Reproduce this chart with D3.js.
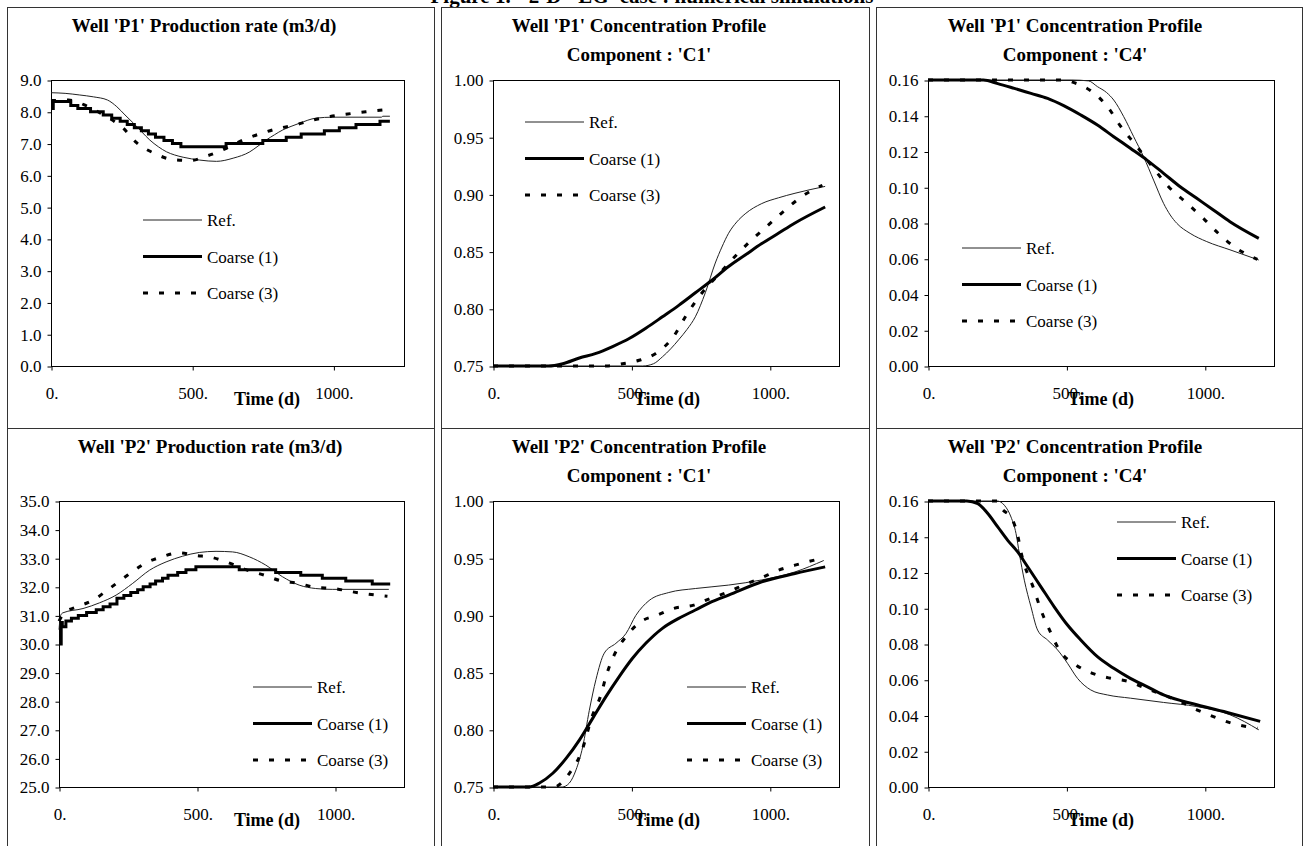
<!DOCTYPE html>
<html>
<head>
<meta charset="utf-8">
<script src="https://cdn.jsdelivr.net/npm/d3@7"></script>
<style>
  body { margin: 0; background: #fff; }
  svg { display: block; }
  text { font-family: "Liberation Serif", "Times New Roman", serif; fill: #000; }
</style>
</head>
<body>
<div id="chart"></div>
<script>
// Axis ticks shared by every panel
const timeTicks = [0, 500, 1000];
const timeTickLabels = ["0.", "500.", "1000."];
const seriesNames = ["Ref.", "Coarse (1)", "Coarse (3)"];

// Well P1 - production rate (m3/d)
const p1RateRef = [[0,8.6],[50,8.58],[100,8.53],[150,8.47],[200,8.37],[233,8.16],[262,7.9],[292,7.64],[320,7.38],[350,7.11],[380,6.9],[409,6.74],[438,6.64],[468,6.57],[527,6.48],[586,6.44],[645,6.54],[704,6.74],[733,6.92],[762,7.11],[792,7.28],[821,7.43],[850,7.54],[880,7.64],[939,7.8],[998,7.83],[1170,7.83],[1175,7.86],[1200,7.86]];
const p1RateC1 = [[0,8.1],[8,8.32],[70,8.2],[95,8.1],[140,8.0],[185,7.9],[215,7.8],[245,7.7],[270,7.6],[295,7.5],[320,7.4],[345,7.3],[370,7.2],[400,7.1],[430,7.0],[460,6.9],[620,7.0],[750,7.1],[833,7.2],[886,7.3],[968,7.4],[1021,7.5],[1080,7.6],[1165,7.7],[1200,7.7]];
const p1RateC3 = [[0,8.35],[62,8.37],[127,8.18],[186,7.9],[256,7.48],[304,7.02],[372,6.67],[427,6.5],[492,6.47],[556,6.62],[621,6.85],[680,7.11],[745,7.32],[807,7.48],[862,7.58],[927,7.74],[989,7.85],[1051,7.93],[1115,8.0],[1200,8.08]];

// Well P1 - C1 concentration
const p1C1Ref = [[0,0.75],[540,0.75],[580,0.752],[612,0.758],[642,0.765],[671,0.773],[701,0.782],[731,0.793],[767,0.814],[803,0.84],[827,0.854],[851,0.866],[881,0.876],[911,0.883],[971,0.892],[1031,0.897],[1091,0.901],[1200,0.907]];
const p1C1C1 = [[0,0.75],[200,0.75],[252,0.752],[312,0.757],[372,0.761],[432,0.767],[492,0.774],[552,0.783],[612,0.793],[671,0.803],[731,0.814],[791,0.825],[851,0.837],[911,0.847],[971,0.857],[1031,0.866],[1091,0.875],[1200,0.889]];
const p1C1C3 = [[0,0.75],[410,0.75],[468,0.752],[528,0.755],[588,0.761],[653,0.776],[695,0.793],[749,0.812],[815,0.83],[875,0.846],[929,0.859],[989,0.872],[1049,0.885],[1115,0.898],[1190,0.908]];

// Well P1 - C4 concentration
const p1C4Ref = [[0,0.16],[520,0.16],[580,0.1595],[612,0.1563],[645,0.153],[671,0.1488],[707,0.1395],[743,0.1283],[779,0.117],[815,0.104],[851,0.091],[875,0.0845],[899,0.0798],[947,0.0742],[1007,0.0696],[1091,0.065],[1195,0.0593]];
const p1C4C1 = [[0,0.16],[200,0.16],[252,0.158],[312,0.1553],[372,0.1525],[432,0.1497],[492,0.1455],[552,0.1404],[612,0.1348],[671,0.1283],[731,0.1218],[791,0.1152],[851,0.1078],[911,0.1003],[971,0.0938],[1031,0.0873],[1091,0.0807],[1195,0.0714]];
const p1C4C3 = [[0,0.16],[490,0.16],[528,0.1585],[588,0.154],[653,0.1441],[695,0.1343],[755,0.1227],[815,0.1106],[869,0.1003],[929,0.0919],[989,0.0835],[1049,0.0742],[1115,0.0658],[1190,0.0597]];

// Well P2 - production rate (m3/d)
const p2RateRef = [[0,30.5],[6,31.0],[14,31.09],[87,31.24],[147,31.44],[207,31.71],[267,32.12],[328,32.58],[388,32.87],[448,33.07],[508,33.2],[569,33.24],[629,33.22],[689,33.05],[749,32.76],[810,32.35],[870,32.06],[930,31.94],[990,31.91],[1195,31.91]];
const p2RateC1 = [[0,30.0],[8,30.75],[12,30.6],[25,30.8],[45,30.9],[70,31.0],[100,31.1],[135,31.2],[160,31.3],[185,31.4],[210,31.6],[235,31.7],[260,31.8],[285,31.9],[305,32.0],[330,32.1],[350,32.2],[375,32.3],[395,32.4],[430,32.5],[460,32.6],[496,32.7],[653,32.6],[785,32.5],[876,32.4],[954,32.3],[1039,32.2],[1135,32.1],[1200,32.1]];
const p2RateC3 = [[0,30.8],[20,31.1],[60,31.28],[123,31.53],[183,31.94],[249,32.41],[310,32.81],[373,33.05],[436,33.19],[494,33.1],[557,33.02],[614,32.84],[677,32.6],[743,32.41],[804,32.21],[867,32.12],[930,31.98],[996,31.94],[1060,31.83],[1123,31.74],[1190,31.67]];

// Well P2 - C1 concentration
const p2C1Ref = [[0,0.75],[250,0.75],[276,0.7535],[300,0.765],[324,0.785],[348,0.817],[372,0.844],[402,0.867],[444,0.8756],[480,0.884],[516,0.9],[564,0.913],[635,0.92],[731,0.9235],[851,0.9265],[971,0.931],[1091,0.938],[1195,0.948]];
const p2C1C1 = [[0,0.75],[130,0.75],[168,0.7535],[216,0.762],[264,0.775],[312,0.791],[360,0.81],[408,0.829],[456,0.8465],[504,0.8625],[552,0.8756],[612,0.8887],[671,0.8974],[731,0.9047],[791,0.912],[851,0.9177],[971,0.9294],[1091,0.9366],[1200,0.9424]];
const p2C1C3 = [[0,0.75],[220,0.75],[276,0.762],[318,0.7797],[360,0.813],[390,0.8305],[408,0.8465],[438,0.8654],[480,0.8814],[534,0.8945],[594,0.9003],[653,0.9061],[725,0.909],[785,0.9148],[851,0.9206],[905,0.9265],[965,0.9323],[1031,0.9395],[1091,0.9439],[1190,0.95]];

// Well P2 - C4 concentration
const p2C4Ref = [[0,0.16],[250,0.16],[276,0.1576],[300,0.151],[318,0.1418],[330,0.1306],[348,0.1157],[372,0.1008],[396,0.0878],[432,0.0822],[468,0.0767],[504,0.0692],[540,0.0608],[588,0.0543],[648,0.0515],[731,0.0497],[851,0.0473],[971,0.045],[1091,0.0404],[1195,0.032]];
const p2C4C1 = [[0,0.16],[140,0.16],[180,0.1585],[216,0.153],[252,0.1455],[288,0.138],[324,0.1315],[360,0.1232],[408,0.112],[456,0.1008],[504,0.0906],[552,0.0822],[612,0.0729],[671,0.0664],[731,0.0608],[791,0.0562],[851,0.0515],[971,0.046],[1091,0.0413],[1200,0.0367]];
const p2C4C3 = [[0,0.16],[250,0.16],[264,0.1563],[306,0.1492],[324,0.1408],[336,0.1315],[384,0.1101],[408,0.099],[438,0.0882],[474,0.0767],[534,0.0683],[594,0.0636],[660,0.0608],[725,0.059],[785,0.0553],[851,0.0515],[911,0.0478],[971,0.0432],[1031,0.0394],[1097,0.0357],[1190,0.0329]];

const rateTicksP1 = d3.range(0, 9.001, 1);
const rateTicksP2 = d3.range(25, 35.001, 1);
const c1Ticks = [0.75, 0.80, 0.85, 0.90, 0.95, 1.00];
const c4Ticks = [0, 0.02, 0.04, 0.06, 0.08, 0.10, 0.12, 0.14, 0.16];

const W = 1305, H = 846;
const serif = '"Liberation Serif", "Times New Roman", serif';
const svg = d3.select('#chart').append('svg').attr('width', W).attr('height', H);

// figure caption, partly cut off at the top like the scan
svg.append('text')
    .attr('x', 652).attr('y', 3)
    .attr('text-anchor', 'middle')
    .style('font-size', '21px').style('font-weight', 'bold')
    .text("Figure 1.- '2-D' 'EG' case : numerical simulations");

// table cells around the charts
const cols = [[7, 434], [441, 869], [876, 1302]];
const rows = [[7, 428], [428, 900]];
cols.forEach(c => rows.forEach(r => {
    svg.append('rect')
        .attr('x', c[0] + 0.5).attr('y', r[0] + 0.5)
        .attr('width', c[1] - c[0]).attr('height', r[1] - r[0])
        .attr('fill', 'none').attr('stroke', '#333').attr('stroke-width', 1);
}));

const rowLayout = [
    { top: 80, bottom: 366, title: [32, 61] },
    { top: 501, bottom: 787, title: [453, 482] }
];

const panels = [
    { row: 0, x: [51, 404], titleX: 204, labelX: 267, title: ["Well 'P1' Production rate (m3/d)"],
      y: [0, 9], ticks: rateTicksP1, fmt: '.1f', data: [p1RateRef, p1RateC1, p1RateC3], step: true, legend: [143, 220] },
    { row: 0, x: [493, 839], titleX: 639, labelX: 667, title: ["Well 'P1' Concentration Profile", "Component : 'C1'"],
      y: [0.75, 1.0], ticks: c1Ticks, fmt: '.2f', data: [p1C1Ref, p1C1C1, p1C1C3], step: false, legend: [525, 122] },
    { row: 0, x: [928, 1274], titleX: 1075, labelX: 1101, title: ["Well 'P1' Concentration Profile", "Component : 'C4'"],
      y: [0, 0.16], ticks: c4Ticks, fmt: '.2f', data: [p1C4Ref, p1C4C1, p1C4C3], step: false, legend: [962, 248] },
    { row: 1, x: [59, 404], titleX: 210, labelX: 267, title: ["Well 'P2' Production rate (m3/d)"],
      y: [25, 35], ticks: rateTicksP2, fmt: '.1f', data: [p2RateRef, p2RateC1, p2RateC3], step: true, legend: [253, 687] },
    { row: 1, x: [493, 839], titleX: 639, labelX: 667, title: ["Well 'P2' Concentration Profile", "Component : 'C1'"],
      y: [0.75, 1.0], ticks: c1Ticks, fmt: '.2f', data: [p2C1Ref, p2C1C1, p2C1C3], step: false, legend: [687, 687] },
    { row: 1, x: [928, 1274], titleX: 1075, labelX: 1101, title: ["Well 'P2' Concentration Profile", "Component : 'C4'"],
      y: [0, 0.16], ticks: c4Ticks, fmt: '.2f', data: [p2C4Ref, p2C4C1, p2C4C3], step: false, legend: [1117, 522] }
];

// line styles: Ref. thin, Coarse (1) thick, Coarse (3) thick dashes
const styles = [
    { width: 1, dash: null },
    { width: 3, dash: null },
    { width: 3, dash: '5,11' }
];

panels.forEach(p => {
    const rl = rowLayout[p.row];
    const g = svg.append('g');

    const x = d3.scaleLinear().domain([0, 1250]).range(p.x);
    const y = d3.scaleLinear().domain(p.y).range([rl.bottom, rl.top]);

    // titles
    p.title.forEach((t, i) => {
        g.append('text')
            .attr('x', p.titleX).attr('y', rl.title[i])
            .attr('text-anchor', 'middle')
            .style('font-size', '19px').style('font-weight', 'bold')
            .text(t);
    });

    // plot frame
    g.append('rect')
        .attr('x', p.x[0] + 0.5).attr('y', rl.top + 0.5)
        .attr('width', p.x[1] - p.x[0]).attr('height', rl.bottom - rl.top)
        .attr('fill', 'none').attr('stroke', '#000');

    const xAxis = g.append('g')
        .attr('transform', `translate(0.5,${rl.bottom + 0.5})`)
        .call(d3.axisBottom(x).tickValues(timeTicks)
            .tickFormat((d, i) => timeTickLabels[i])
            .tickSize(4).tickSizeOuter(0).tickPadding(16));
    const yAxis = g.append('g')
        .attr('transform', `translate(${p.x[0] + 0.5},0.5)`)
        .call(d3.axisLeft(y).tickValues(p.ticks)
            .tickFormat(d3.format(p.fmt))
            .tickSize(4).tickSizeOuter(0).tickPadding(6));
    [xAxis, yAxis].forEach(a => {
        a.attr('font-family', serif).attr('font-size', 17);
        a.select('.domain').remove();
        a.selectAll('line').attr('stroke', '#000');
        a.selectAll('text')
            .style('font-family', serif)
            .style('font-size', '17px').attr('fill', '#000');
    });

    g.append('text')
        .attr('x', p.labelX).attr('y', rl.bottom + 39)
        .attr('text-anchor', 'middle')
        .style('font-size', '18px').style('font-weight', 'bold')
        .text('Time (d)');

    // series
    p.data.forEach((d, i) => {
        const curve = (i === 1 && p.step) ? d3.curveStepAfter : d3.curveMonotoneX;
        const line = d3.line().x(v => x(v[0])).y(v => y(v[1])).curve(curve);
        g.append('path')
            .datum(d)
            .attr('d', line)
            .attr('fill', 'none')
            .attr('stroke', i === 0 ? '#222' : '#000')
            .attr('stroke-width', styles[i].width)
            .attr('stroke-dasharray', styles[i].dash);
    });

    // legend
    seriesNames.forEach((name, i) => {
        const ly = p.legend[1] + i * 36.5;
        g.append('line')
            .attr('x1', p.legend[0]).attr('x2', p.legend[0] + 59)
            .attr('y1', ly).attr('y2', ly)
            .attr('stroke', i === 0 ? '#222' : '#000')
            .attr('stroke-width', styles[i].width)
            .attr('stroke-dasharray', styles[i].dash);
        g.append('text')
            .attr('x', p.legend[0] + 64).attr('y', ly + 6)
            .style('font-size', '17px')
            .text(name);
    });
});
</script>
</body>
</html>
